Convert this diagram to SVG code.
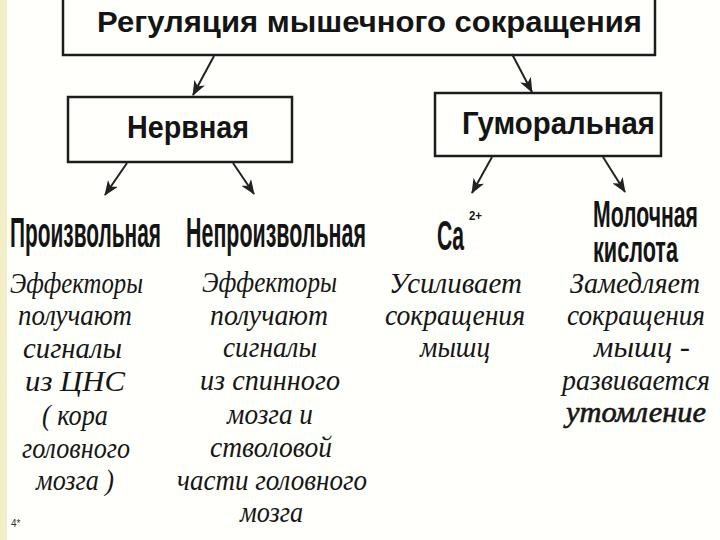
<svg xmlns="http://www.w3.org/2000/svg" width="720" height="540" viewBox="0 0 720 540">
  <style>
    .box { fill: none; stroke: #1c1c1c; stroke-width: 2.5; }
    .hb { font-family: "Liberation Sans", Arial, sans-serif; font-weight: bold; fill: #141414; }
    .it { font-family: "Liberation Serif", "Times New Roman", serif; font-style: italic; fill: #161616; font-size: 29px; text-anchor: start; }
    .conn line { stroke: #222; stroke-width: 2; marker-end: url(#arr); }
  </style>
  <defs>
    <marker id="arr" markerWidth="16" markerHeight="12" refX="14" refY="6" orient="auto" markerUnits="userSpaceOnUse">
      <path d="M0,0 L15,6 L0,12 L4,6 Z" fill="#222"/>
    </marker>
  </defs>
  <rect x="0" y="0" width="720" height="540" fill="#fffffb"/>
  <rect x="0" y="0" width="7" height="540" fill="#f4efc6"/>

  <g id="root">
    <rect class="box" x="63" y="-4" width="592" height="59"/>
    <text class="hb" x="97" y="32" font-size="30" textLength="545" lengthAdjust="spacingAndGlyphs">Регуляция мышечного сокращения</text>
  </g>
  <g id="nervnaya">
    <rect class="box" x="68" y="97" width="224" height="65"/>
    <text class="hb" x="127" y="138" font-size="31" textLength="122" lengthAdjust="spacingAndGlyphs">Нервная</text>
  </g>
  <g id="gumoralnaya">
    <rect class="box" x="435" y="93" width="226" height="63"/>
    <text class="hb" x="462" y="134" font-size="31" textLength="193" lengthAdjust="spacingAndGlyphs">Гуморальная</text>
  </g>

  <g id="connectors" class="conn">
    <line x1="214" y1="56" x2="193" y2="95"/>
    <line x1="512" y1="54" x2="532" y2="92"/>
    <line x1="127" y1="163" x2="105" y2="195"/>
    <line x1="233" y1="163" x2="254" y2="194"/>
    <line x1="492" y1="157" x2="472" y2="193"/>
    <line x1="603" y1="157" x2="625" y2="192"/>
  </g>

  <g id="proizvolnaya">
    <text class="hb" x="10" y="247" font-size="43" textLength="151" lengthAdjust="spacingAndGlyphs">Произвольная</text>
    <text class="it" x="10" y="293" textLength="133" lengthAdjust="spacingAndGlyphs">Эффекторы</text>
    <text class="it" x="18" y="325" textLength="114" lengthAdjust="spacingAndGlyphs">получают</text>
    <text class="it" x="23" y="358" textLength="99" lengthAdjust="spacingAndGlyphs">сигналы</text>
    <text class="it" x="25" y="391" textLength="100" lengthAdjust="spacingAndGlyphs">из ЦНС</text>
    <text class="it" x="42" y="425" textLength="66" lengthAdjust="spacingAndGlyphs">( кора</text>
    <text class="it" x="22" y="458" textLength="108" lengthAdjust="spacingAndGlyphs">головного</text>
    <text class="it" x="36" y="490" textLength="78" lengthAdjust="spacingAndGlyphs">мозга )</text>
  </g>

  <g id="neproizvolnaya">
    <text class="hb" x="186" y="247" font-size="43" textLength="180" lengthAdjust="spacingAndGlyphs">Непроизвольная</text>
    <text class="it" x="202" y="292" textLength="135" lengthAdjust="spacingAndGlyphs">Эффекторы</text>
    <text class="it" x="210" y="325" textLength="118" lengthAdjust="spacingAndGlyphs">получают</text>
    <text class="it" x="223" y="357" textLength="94" lengthAdjust="spacingAndGlyphs">сигналы</text>
    <text class="it" x="200" y="390" textLength="140" lengthAdjust="spacingAndGlyphs">из спинного</text>
    <text class="it" x="227" y="424" textLength="86" lengthAdjust="spacingAndGlyphs">мозга и</text>
    <text class="it" x="210" y="457" textLength="122" lengthAdjust="spacingAndGlyphs">стволовой</text>
    <text class="it" x="177" y="490" textLength="190" lengthAdjust="spacingAndGlyphs">части головного</text>
    <text class="it" x="240" y="522" textLength="63" lengthAdjust="spacingAndGlyphs">мозга</text>
  </g>

  <g id="calcium">
    <text class="hb" x="437" y="250" font-size="42" textLength="27" lengthAdjust="spacingAndGlyphs">Ca</text>
    <text class="hb" x="469" y="220" font-size="13" font-weight="normal" textLength="13" lengthAdjust="spacingAndGlyphs">2+</text>
    <text class="it" x="389" y="293" textLength="133" lengthAdjust="spacingAndGlyphs">Усиливает</text>
    <text class="it" x="385" y="325" textLength="140" lengthAdjust="spacingAndGlyphs">сокращения</text>
    <text class="it" x="420" y="357" textLength="70" lengthAdjust="spacingAndGlyphs">мышц</text>
  </g>

  <g id="lactic">
    <text class="hb" x="593" y="227" font-size="36" textLength="105" lengthAdjust="spacingAndGlyphs">Молочная</text>
    <text class="hb" x="593" y="262" font-size="36" textLength="85" lengthAdjust="spacingAndGlyphs">кислота</text>
    <text class="it" x="570" y="293" textLength="130" lengthAdjust="spacingAndGlyphs">Замедляет</text>
    <text class="it" x="567" y="325" textLength="138" lengthAdjust="spacingAndGlyphs">сокращения</text>
    <text class="it" x="594" y="357" textLength="96" lengthAdjust="spacingAndGlyphs">мышц -</text>
    <text class="it" x="562" y="390" textLength="148" lengthAdjust="spacingAndGlyphs">развивается</text>
    <text class="it" x="566" y="422" textLength="140" lengthAdjust="spacingAndGlyphs" stroke="#161616" stroke-width="0.6">утомление</text>
  </g>

  <text x="11" y="527" font-family="Liberation Sans, Arial, sans-serif" font-size="10" fill="#333">4*</text>
</svg>
